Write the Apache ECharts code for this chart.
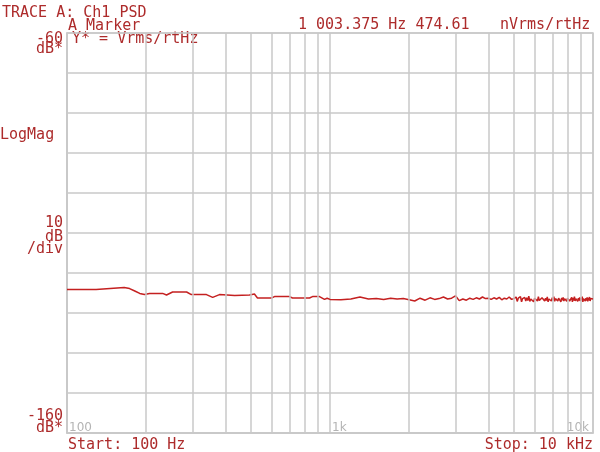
<!DOCTYPE html>
<html>
<head>
<meta charset="utf-8">
<script src="https://cdn.jsdelivr.net/npm/echarts@6/dist/echarts.min.js"></script>
<style>html,body{margin:0;padding:0;background:#fff}#c{width:600px;height:452px}</style>
</head>
<body>
<div id="c"></div>
<script>
// Frequencies (Hz) and PSD values (dB re 1 Vrms/rtHz)
const freqLow = [100,129,130,165,173,181,189,197,206,231,239,252,285,297,339,358,380,434,494,516,530,599,615,702,720,836,858,912,953,975];
const psdLow = [-124.1,-124.1,-123.6,-123.6,-123.9,-124.5,-125.1,-125.4,-125.1,-125.1,-125.5,-124.75,-124.75,-125.4,-125.4,-126.1,-125.4,-125.6,-125.5,-125.25,-126.25,-126.25,-125.9,-125.9,-126.25,-126.25,-125.9,-125.9,-126.6,-126.3];

const freqMid = [1000,1100,1200,1300,1400,1500,1600,1700,1800,1900,2000,2100,2200,2300,2400,2500,2600,2700,2800,2900,3000,3100,3200,3300,3400,3500,3600,3700,3800,3900,4000,4100,4200,4300,4400,4500,4600,4700,4800,4900,5000];
const psdMid = [-126.6,-126.7,-126.5,-126.0,-126.5,-126.4,-126.6,-126.3,-126.5,-126.4,-126.7,-127.0,-126.3,-126.8,-126.2,-126.6,-126.4,-126.0,-126.5,-126.3,-125.7,-126.9,-126.5,-126.8,-126.3,-126.6,-126.2,-126.5,-126.0,-126.4,-126.3,-126.6,-126.2,-126.5,-126.1,-126.7,-126.3,-126.5,-126.0,-126.6,-126.4];

const freqHigh = [5050,5100,5150,5200,5250,5300,5350,5400,5450,5500,5550,5600,5650,5700,5750,5800,5850,5900,5950,6000,
6050,6100,6150,6200,6250,6300,6350,6400,6450,6500,6550,6600,6650,6700,6750,6800,6850,6900,6950,7000,
7050,7100,7150,7200,7250,7300,7350,7400,7450,7500,7550,7600,7650,7700,7750,7800,7850,7900,7950,8000,
8050,8100,8150,8200,8250,8300,8350,8400,8450,8500,8550,8600,8650,8700,8750,8800,8850,8900,8950,9000,
9050,9100,9150,9200,9250,9300,9350,9400,9450,9500,9550,9600,9650,9700,9750,9800,9850,9900,9950,10000];
const psdHigh = [-126.9,-126.0,-127.1,-126.3,-126.8,-125.9,-127.2,-126.4,-126.7,-126.1,
-127.0,-126.2,-126.9,-125.8,-127.1,-126.5,-126.6,-126.0,-127.2,-126.3,
-126.8,-126.1,-127.0,-125.9,-126.9,-126.4,-127.1,-126.2,-126.7,-125.8,
-127.0,-126.3,-126.9,-126.0,-127.2,-126.5,-126.6,-126.1,-127.0,-126.2,
-126.8,-125.9,-127.1,-126.4,-126.9,-126.0,-127.0,-126.3,-126.7,-125.8,
-127.2,-126.2,-126.8,-126.1,-127.0,-126.4,-126.9,-125.9,-127.1,-126.3,
-126.7,-126.0,-127.0,-126.5,-126.8,-126.1,-127.2,-126.2,-126.9,-125.9,
-127.0,-126.4,-126.6,-126.0,-127.1,-126.3,-126.9,-126.1,-127.0,-126.2,
-126.8,-125.9,-127.2,-126.4,-126.7,-126.0,-127.0,-126.3,-126.9,-126.1,
-127.1,-126.2,-126.8,-126.0,-127.0,-126.4,-126.9,-126.1,-126.8,-126.5];

const minorGridHz = [200,300,400,500,600,700,800,900,2000,3000,4000,5000,6000,7000,8000,9000];
const xTickLabels = {100:'100', 1000:'1k', 10000:'10k'};
const yMin = -160, yMax = -60, yStep = 10;

const freqAll = freqLow.concat(freqMid, freqHigh);
const psdAll = psdLow.concat(psdMid, psdHigh);
const traceData = freqAll.map((f, i) => [f, psdAll[i]]);

const TXT = '#ad2b2b';
const GRID = '#c8c8c8';
const MONO = 'DejaVu Sans Mono';

function t(text, x, y, align, extra) {
  return Object.assign({
    type: 'text', x: x, y: y + 1, silent: true,
    style: { text: text, fill: TXT, fontFamily: MONO, fontSize: 15, align: align || 'left', verticalAlign: 'middle' }
  }, extra || {});
}

const chart = echarts.init(document.getElementById('c'), null, { renderer: 'canvas' });
chart.setOption({
  animation: false,
  backgroundColor: '#ffffff',
  grid: { left: 67, right: 7, top: 33, bottom: 19, show: true, borderColor: GRID, borderWidth: 1.5, backgroundColor: 'transparent' },
  xAxis: {
    type: 'log', logBase: 10, min: 100, max: 10000,
    axisLine: { show: true, lineStyle: { color: GRID, width: 1.5 } },
    axisTick: { show: false },
    splitLine: { show: true, lineStyle: { color: GRID, width: 1.5 } },
    axisLabel: {
      show: true, inside: true, margin: -1, color: '#b4b4b4', fontFamily: 'DejaVu Sans', fontSize: 12,
      align: 'left', alignMinLabel: 'left', alignMaxLabel: 'right', padding: [0, 4, 0, 2],
      formatter: v => xTickLabels[Math.round(v)] || ''
    }
  },
  yAxis: {
    type: 'value', min: yMin, max: yMax, interval: yStep,
    axisLine: { show: true, lineStyle: { color: GRID, width: 1.5 } },
    axisTick: { show: false },
    axisLabel: { show: false },
    splitLine: { show: true, lineStyle: { color: GRID, width: 1.5 } }
  },
  series: [{
    type: 'line', data: traceData, showSymbol: false, symbol: 'none',
    lineStyle: { color: '#c42020', width: 1.5 },
    markLine: {
      silent: true, symbol: 'none', animation: false,
      label: { show: false },
      lineStyle: { color: GRID, width: 1.5, type: 'solid' },
      data: minorGridHz.map(f => ({ xAxis: f }))
    },
    z: 3
  }],
  graphic: [
    t('TRACE A: Ch1 PSD', 2, 12),
    t('A Marker', 68, 25),
    t('1 003.375 Hz 474.61', 298, 24),
    t('nVrms/rtHz', 500, 24),
    t('-60', 63, 38, 'right'),
    t('dB*', 63, 48, 'right'),
    t('Y* = Vrms/rtHz', 72, 38),
    t('LogMag', 0, 134),
    t('10', 63, 222, 'right'),
    t('dB', 63, 236, 'right'),
    t('/div', 63, 248, 'right'),
    t('-160', 63, 415, 'right'),
    t('dB*', 63, 427, 'right'),
    t('Start: 100 Hz', 68, 444),
    t('Stop: 10 kHz', 593, 444, 'right')
  ]
});
</script>
</body>
</html>
